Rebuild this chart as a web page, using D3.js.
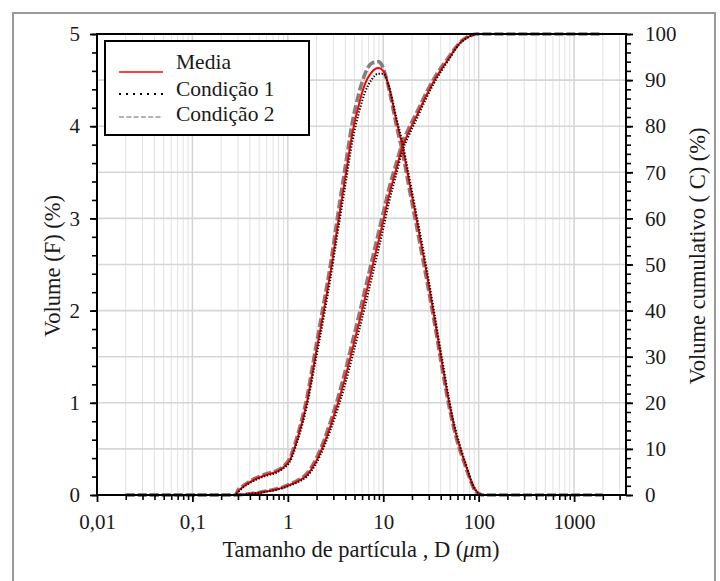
<!DOCTYPE html>
<html>
<head>
<meta charset="utf-8">
<script src="https://cdn.jsdelivr.net/npm/d3@7"></script>
<style>
  html, body { margin: 0; padding: 0; background: #fff; }
  svg { display: block; }
  text { font-family: "Liberation Serif", "Times New Roman", serif; fill: #1a1a1a; }
</style>
</head>
<body>
<svg id="chart" width="720" height="581"></svg>
<script>
// ---------------- DATA ----------------
const sizes = [0.02, 0.05, 0.1, 0.2, 0.28, 0.3, 0.35, 0.4, 0.5, 0.6, 0.75, 0.9, 1.05, 1.25, 1.58, 1.94, 2.38, 2.8, 3.3, 4.0, 4.8, 5.6, 6.4, 7.5, 8.9, 10, 11.5, 13.8, 15.9, 18.3, 22.7, 28, 34, 41, 49, 56, 62, 68, 75, 82, 88, 95, 103, 110, 200, 500, 1000, 2000];

const freqMedia = [0, 0, 0, 0, 0, 0.04, 0.10, 0.14, 0.19, 0.22, 0.25, 0.30, 0.38, 0.60, 1.00, 1.50, 2.00, 2.42, 2.90, 3.45, 3.95, 4.25, 4.45, 4.58, 4.63, 4.60, 4.42, 4.05, 3.78, 3.45, 2.95, 2.45, 1.95, 1.45, 1.00, 0.72, 0.55, 0.42, 0.29, 0.17, 0.09, 0.04, 0.01, 0, 0, 0, 0, 0];
const freqCond1 = [0, 0, 0, 0, 0, 0.03, 0.09, 0.13, 0.18, 0.21, 0.24, 0.29, 0.36, 0.57, 0.96, 1.44, 1.93, 2.35, 2.82, 3.36, 3.86, 4.16, 4.36, 4.50, 4.57, 4.57, 4.43, 4.08, 3.82, 3.50, 3.00, 2.50, 2.00, 1.50, 1.04, 0.75, 0.58, 0.44, 0.31, 0.18, 0.10, 0.04, 0.01, 0, 0, 0, 0, 0];
const freqCond2 = [0, 0, 0, 0, 0, 0.05, 0.11, 0.15, 0.20, 0.23, 0.26, 0.31, 0.40, 0.63, 1.05, 1.57, 2.08, 2.50, 3.00, 3.56, 4.07, 4.37, 4.56, 4.68, 4.70, 4.63, 4.40, 4.00, 3.72, 3.38, 2.88, 2.38, 1.90, 1.40, 0.96, 0.69, 0.52, 0.40, 0.27, 0.16, 0.08, 0.03, 0.01, 0, 0, 0, 0, 0];

const cumMedia = [0, 0, 0, 0, 0, 0.02, 0.12, 0.25, 0.50, 0.80, 1.20, 1.65, 2.20, 2.90, 4.30, 7.00, 11.0, 15.0, 19.5, 25.5, 32.0, 37.5, 42.5, 48.5, 55.0, 59.5, 65.0, 71.0, 75.5, 78.5, 82.5, 86.5, 89.8, 92.5, 94.8, 96.6, 97.8, 98.6, 99.2, 99.6, 99.85, 100, 100, 100, 100, 100, 100, 100];
const cumCond1 = [0, 0, 0, 0, 0, 0.02, 0.10, 0.22, 0.45, 0.74, 1.10, 1.55, 2.05, 2.70, 4.00, 6.50, 10.3, 14.1, 18.4, 24.1, 30.4, 35.8, 40.7, 46.7, 53.2, 57.8, 63.5, 69.8, 74.6, 77.7, 81.8, 85.9, 89.3, 92.1, 94.5, 96.4, 97.7, 98.5, 99.1, 99.55, 99.8, 100, 100, 100, 100, 100, 100, 100];
const cumCond2 = [0, 0, 0, 0, 0, 0.03, 0.14, 0.28, 0.55, 0.86, 1.30, 1.75, 2.35, 3.10, 4.60, 7.50, 11.7, 15.9, 20.6, 26.9, 33.6, 39.2, 44.3, 50.3, 56.8, 61.2, 66.5, 72.2, 76.4, 79.3, 83.2, 87.1, 90.3, 92.9, 95.1, 96.8, 97.9, 98.7, 99.3, 99.65, 99.9, 100, 100, 100, 100, 100, 100, 100];

const xMajorTicks = [0.01, 0.1, 1, 10, 100, 1000];
const xTickLabels = ["0,01", "0,1", "1", "10", "100", "1000"];
const leftTicks = [0, 1, 2, 3, 4, 5];
const rightTicks = [0, 10, 20, 30, 40, 50, 60, 70, 80, 90, 100];
const legendLabels = ["Media", "Condição 1", "Condição 2"];

// ---------------- LAYOUT ----------------
const svg = d3.select("#chart");
const L = 97, R = 626, T = 34, B = 495;

const x = d3.scaleLog().domain([0.01, 3500]).range([L, R]);
const yL = d3.scaleLinear().domain([0, 5]).range([B, T]);
const yR = d3.scaleLinear().domain([0, 100]).range([B, T]);

// outer border
svg.append("rect").attr("x", 13).attr("y", 13).attr("width", 702).attr("height", 620)
  .attr("fill", "none").attr("stroke", "#9a9a9a").attr("stroke-width", 2);

// minor log ticks
const allXTicks = [];
for (let e = -2; e <= 3; e++) {
  for (let m = 1; m <= 9; m++) {
    const v = m * Math.pow(10, e);
    if (v <= 3500) allXTicks.push(+v.toPrecision(6));
  }
}
const minorXTicks = allXTicks.filter(v => !xMajorTicks.some(t => Math.abs(t - v) < 1e-9));

// gridlines
const grid = svg.append("g");
grid.selectAll("line.vmin").data(minorXTicks).join("line")
  .attr("x1", d => x(d)).attr("x2", d => x(d)).attr("y1", T).attr("y2", B)
  .attr("stroke", "#e2e2e2").attr("stroke-width", 1);
grid.selectAll("line.vmaj").data(xMajorTicks.slice(1)).join("line")
  .attr("x1", d => x(d)).attr("x2", d => x(d)).attr("y1", T).attr("y2", B)
  .attr("stroke", "#d4d4d4").attr("stroke-width", 1.5);
grid.selectAll("line.h").data(d3.range(1, 10).map(i => i * 0.5)).join("line")
  .attr("x1", L).attr("x2", R).attr("y1", d => yL(d)).attr("y2", d => yL(d))
  .attr("stroke", "#d6d6d6").attr("stroke-width", 1.6);

// curves
const lineF = d3.line().x((d, i) => x(sizes[i])).y(d => yL(d)).curve(d3.curveMonotoneX);
const lineC = d3.line().x((d, i) => x(sizes[i])).y(d => yR(d)).curve(d3.curveMonotoneX);

const styles = {
  c2: { stroke: "#808080", width: 3.6, dash: "9,3" },
  media: { stroke: "#ff0000", width: 2, dash: null },
  c1: { stroke: "#000000", width: 2, dash: "1.3,1.7" }
};
const series = [
  { data: cumCond2, gen: lineC, s: styles.c2 },
  { data: freqCond2, gen: lineF, s: styles.c2 },
  { data: cumMedia, gen: lineC, s: styles.media },
  { data: freqMedia, gen: lineF, s: styles.media },
  { data: cumCond1, gen: lineC, s: styles.c1 },
  { data: freqCond1, gen: lineF, s: styles.c1 }
];
const curves = svg.append("g");
series.forEach(sr => {
  curves.append("path").attr("d", sr.gen(sr.data))
    .attr("fill", "none").attr("stroke", sr.s.stroke).attr("stroke-width", sr.s.width)
    .attr("stroke-dasharray", sr.s.dash).attr("stroke-linejoin", "round");
});

// axes
const fontSize = 21;
const titleSize = 22.5;
// bottom minor
svg.append("g").attr("transform", `translate(0,${B})`)
  .call(d3.axisBottom(x).tickValues(minorXTicks).tickSize(5).tickFormat(""))
  .call(g => g.select(".domain").remove())
  .call(g => g.selectAll("line").attr("stroke", "#000").attr("stroke-width", 1.6));
// bottom major
const xAx = svg.append("g").attr("transform", `translate(0,${B})`)
  .call(d3.axisBottom(x).tickValues(xMajorTicks).tickSize(7).tickPadding(12)
    .tickFormat((d, i) => xTickLabels[i]))
  .call(g => g.select(".domain").remove());
xAx.selectAll("line").attr("stroke", "#000").attr("stroke-width", 1.8);
xAx.selectAll("text").attr("font-size", fontSize).attr("font-family", "Liberation Serif").attr("fill", "#1a1a1a");

// left axis
svg.append("g").attr("transform", `translate(${L},0)`)
  .call(d3.axisLeft(yL).tickValues(d3.range(0, 26).map(i => +(i * 0.2).toFixed(1))).tickSize(5).tickFormat(""))
  .call(g => g.select(".domain").remove())
  .call(g => g.selectAll("line").attr("stroke", "#000").attr("stroke-width", 1.6));
const lAx = svg.append("g").attr("transform", `translate(${L},0)`)
  .call(d3.axisLeft(yL).tickValues(leftTicks).tickSize(7).tickPadding(10).tickFormat(d3.format("d")))
  .call(g => g.select(".domain").remove());
lAx.selectAll("line").attr("stroke", "#000").attr("stroke-width", 1.8);
lAx.selectAll("text").attr("font-size", fontSize).attr("font-family", "Liberation Serif").attr("fill", "#1a1a1a");

// right axis
svg.append("g").attr("transform", `translate(${R},0)`)
  .call(d3.axisRight(yR).tickValues(d3.range(0, 51).map(i => i * 2)).tickSize(5).tickFormat(""))
  .call(g => g.select(".domain").remove())
  .call(g => g.selectAll("line").attr("stroke", "#000").attr("stroke-width", 1.6));
const rAx = svg.append("g").attr("transform", `translate(${R},0)`)
  .call(d3.axisRight(yR).tickValues(rightTicks).tickSize(7).tickPadding(12).tickFormat(d3.format("d")))
  .call(g => g.select(".domain").remove());
rAx.selectAll("line").attr("stroke", "#000").attr("stroke-width", 1.8);
rAx.selectAll("text").attr("font-size", fontSize).attr("font-family", "Liberation Serif").attr("fill", "#1a1a1a");

// frame
svg.append("rect").attr("x", L).attr("y", T).attr("width", R - L).attr("height", B - T)
  .attr("fill", "none").attr("stroke", "#000").attr("stroke-width", 2);

// axis titles
const xt = svg.append("text").attr("x", 361).attr("y", 557).attr("text-anchor", "middle")
  .attr("font-size", titleSize);
xt.append("tspan").text("Tamanho de partícula , D (");
xt.append("tspan").attr("font-style", "italic").text("μ");
xt.append("tspan").text("m)");

svg.append("text").attr("transform", "translate(52,266) rotate(-90)")
  .attr("text-anchor", "middle").attr("dominant-baseline", "central")
  .attr("font-size", titleSize).text("Volume (F) (%)");
svg.append("text").attr("transform", "translate(697,256) rotate(-90)")
  .attr("text-anchor", "middle").attr("dominant-baseline", "central")
  .attr("font-size", titleSize).text("Volume cumulativo ( C) (%)");

// legend
const lg = svg.append("g");
lg.append("rect").attr("x", 105).attr("y", 41).attr("width", 204).attr("height", 94)
  .attr("fill", "#fff").attr("stroke", "#000").attr("stroke-width", 2);
const legStyles = [
  { stroke: "#ff0000", width: 1.3, dash: null, ly: 72, ty: 68.5 },
  { stroke: "#000000", width: 2, dash: "2,5", ly: 94, ty: 95.5 },
  { stroke: "#9a9a9a", width: 1.3, dash: "5,2.3", ly: 117, ty: 120.5 }
];
legendLabels.forEach((lab, i) => {
  const st = legStyles[i];
  lg.append("line").attr("x1", 119).attr("x2", 163).attr("y1", st.ly).attr("y2", st.ly)
    .attr("stroke", st.stroke).attr("stroke-width", st.width).attr("stroke-dasharray", st.dash);
  lg.append("text").attr("x", 176).attr("y", st.ty).attr("font-size", 21.5).text(lab);
});
</script>
</body>
</html>
